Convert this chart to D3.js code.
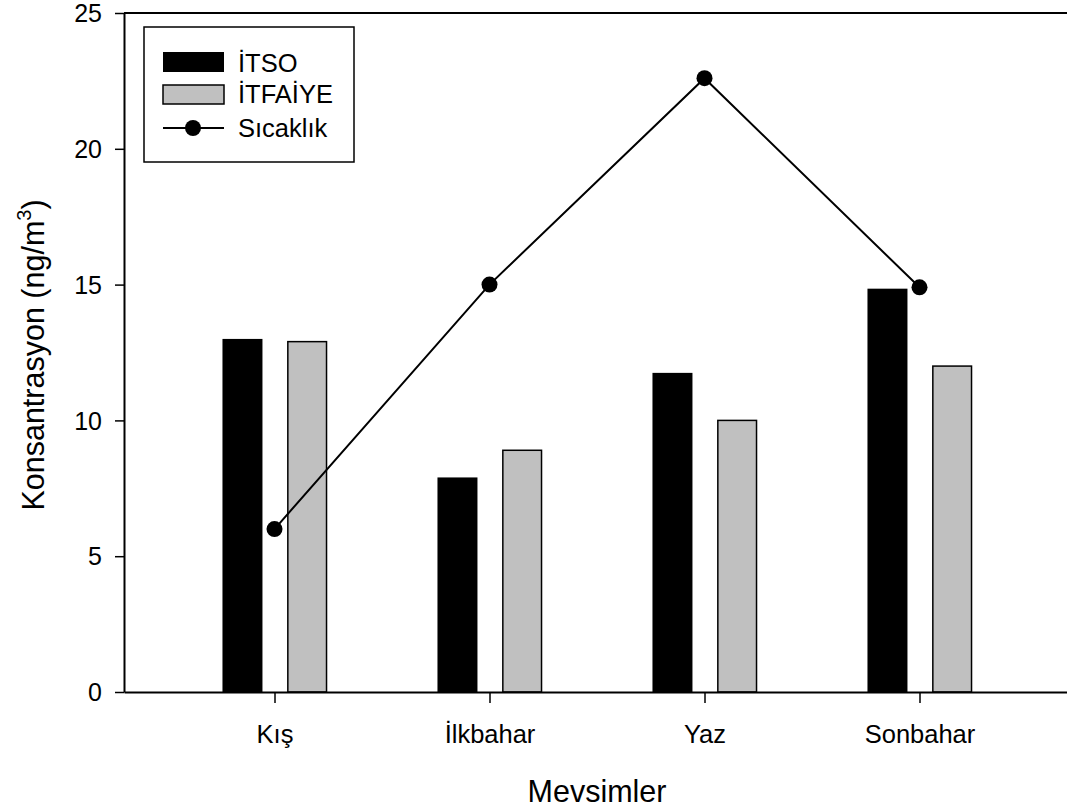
<!DOCTYPE html>
<html><head><meta charset="utf-8">
<script src="https://cdn.jsdelivr.net/npm/d3@7"></script>
<style>
html,body{margin:0;padding:0;background:#fff;}
svg text{font-family:"Liberation Sans",Arial,sans-serif;fill:#000;}
</style></head>
<body>
<svg id="chart" width="1067" height="812"></svg>
<script>
const categories = ["Kış", "İlkbahar", "Yaz", "Sonbahar"];
const itso = [13.0, 7.9, 11.75, 14.85];
const itfaiye = [12.9, 8.9, 10.0, 12.0];
const sicaklik = [6.0, 15.0, 22.6, 14.9];
const yTicks = [0, 5, 10, 15, 20, 25];
const seriesNames = ["İTSO", "İTFAİYE", "Sıcaklık"];

const svg = d3.select("#chart");
const x = d3.scaleLinear().domain([-0.7, 3.7]).range([124, 1070]);
const y = d3.scaleLinear().domain([0, 25]).range([692, 13]);

// top frame line
svg.append("line").attr("x1", x(-0.7)).attr("x2", 1067).attr("y1", y(25)).attr("y2", y(25))
  .attr("stroke", "#000").attr("stroke-width", 2);

// bars
const idx = d3.range(categories.length);
svg.append("g").selectAll("rect").data(idx).join("rect")
  .attr("x", i => x(i - 0.242)).attr("width", i => x(i - 0.056) - x(i - 0.242))
  .attr("y", i => y(itso[i])).attr("height", i => y(0) - y(itso[i]))
  .attr("fill", "#000");
svg.append("g").selectAll("rect").data(idx).join("rect")
  .attr("x", i => x(i + 0.062)).attr("width", i => x(i + 0.242) - x(i + 0.062))
  .attr("y", i => y(itfaiye[i])).attr("height", i => y(0) - y(itfaiye[i]))
  .attr("fill", "#c0c0c0").attr("stroke", "#000").attr("stroke-width", 1.5);

// axes
const gx = svg.append("g").attr("transform", `translate(0,${y(0)})`)
  .call(d3.axisBottom(x).tickValues(idx).tickFormat(i => categories[i]).tickSize(11).tickSizeOuter(0));
const gy = svg.append("g").attr("transform", `translate(${x(-0.7)},0)`)
  .call(d3.axisLeft(y).tickValues(yTicks).tickFormat(d3.format("d")).tickSize(9).tickSizeOuter(0));
[gx, gy].forEach(g => {
  g.select(".domain").attr("stroke", "#000").attr("stroke-width", 2);
  g.selectAll(".tick line").attr("stroke", "#000").attr("stroke-width", 1.5);
  g.selectAll("text").attr("font-family", "Liberation Sans, Arial, sans-serif").attr("fill", "#000");
});
gx.selectAll(".tick text").attr("font-size", 25.5).attr("dy", 0).attr("y", 51);
gy.selectAll(".tick text").attr("font-size", 25).attr("x", -22).attr("dy", "0.35em");

// line series
const line = d3.line().x((d, i) => x(i)).y(d => y(d));
svg.append("path").datum(sicaklik).attr("d", line).attr("fill", "none")
  .attr("stroke", "#000").attr("stroke-width", 2);
svg.append("g").selectAll("circle").data(sicaklik).join("circle")
  .attr("cx", (d, i) => x(i)).attr("cy", d => y(d)).attr("r", 8).attr("fill", "#000");

// axis titles
svg.append("text").attr("x", 597).attr("y", 802).attr("text-anchor", "middle")
  .attr("font-size", 30.5).text("Mevsimler");
const yt = svg.append("text").attr("transform", "translate(44,355) rotate(-90)")
  .attr("text-anchor", "middle").attr("font-size", 30.5);
yt.append("tspan").text("Konsantrasyon (ng/m");
yt.append("tspan").attr("font-size", 20).attr("dy", -13).text("3");
yt.append("tspan").attr("dy", 13).text(")");

// legend
const lg = svg.append("g");
lg.append("rect").attr("x", 144).attr("y", 27).attr("width", 210).attr("height", 135)
  .attr("fill", "#fff").attr("stroke", "#000").attr("stroke-width", 1.5);
lg.append("rect").attr("x", 163).attr("y", 52).attr("width", 61).attr("height", 20).attr("fill", "#000");
lg.append("rect").attr("x", 163).attr("y", 85).attr("width", 61).attr("height", 19)
  .attr("fill", "#c0c0c0").attr("stroke", "#000").attr("stroke-width", 1.5);
lg.append("line").attr("x1", 163).attr("x2", 224).attr("y1", 128).attr("y2", 128)
  .attr("stroke", "#000").attr("stroke-width", 2);
lg.append("circle").attr("cx", 193).attr("cy", 128).attr("r", 8).attr("fill", "#000");
const lgBase = [72, 103, 137];
seriesNames.forEach((n, i) => {
  lg.append("text").attr("x", 238).attr("y", lgBase[i]).attr("font-size", 25.5).text(n);
});
</script>
</body></html>
